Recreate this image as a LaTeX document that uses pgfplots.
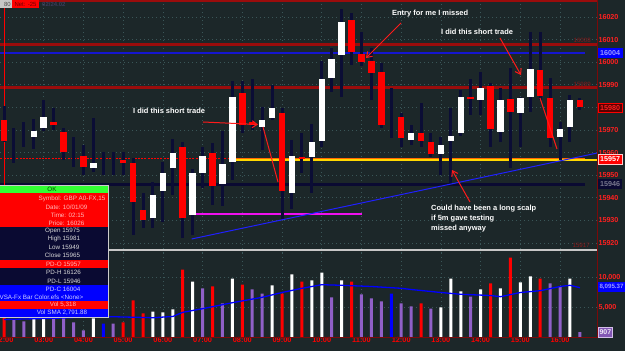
\documentclass[border=0pt]{standalone}
\usepackage{pgfplots}
\pgfplotsset{compat=1.18}
\usepackage{pgfplotstable}
\usepackage{fontspec}
\setmainfont{Liberation Sans}
\usetikzlibrary{arrows.meta}

\definecolor{bgc}{HTML}{1C2729}
\definecolor{wick}{HTML}{0B0D35}
\definecolor{cred}{HTML}{FF0000}
\definecolor{lred}{HTML}{9A0C0C}
\definecolor{gridc}{HTML}{3A5658}
\definecolor{vpurple}{HTML}{9060C8}
\definecolor{vblue}{HTML}{0000FF}
\definecolor{navy}{HTML}{0A0A32}
\definecolor{axred}{HTML}{7A0A0A}
\definecolor{lbl}{HTML}{FF2020}
\definecolor{pinkt}{HTML}{FFB8B8}
\definecolor{dimred}{HTML}{8A1A1A}
\definecolor{arrred}{HTML}{FF1A1A}
\definecolor{okgreen}{HTML}{33FF33}
\definecolor{magent}{HTML}{F010F0}
\definecolor{pdo}{HTML}{FF6A00}
\definecolor{pdoy}{HTML}{FFD800}
\definecolor{trend}{HTML}{2020FF}
\definecolor{pdc}{HTML}{1515D0}

\newcommand{\fs}[1]{\fontsize{#1}{#1}\selectfont}

% candles: i open high low close
\pgfplotstableread{
i o h l c
3 15966.9 15974.9 15961.6 15969.6
4 15970.9 15983.3 15969.6 15975.8
9 15953.2 15975.3 15951.4 15955.4
15 15931.1 15947.0 15926.6 15941.2
16 15943.0 15955.8 15929.3 15951.0
17 15953.2 15966.0 15941.2 15959.8
19 15932.4 15952.7 15923.5 15951.0
20 15951.0 15962.5 15944.3 15958.5
22 15946.1 15969.6 15936.8 15955.0
23 15955.8 15991.7 15947.9 15984.6
26 15971.3 15980.2 15961.2 15974.4
27 15975.3 15989.9 15974.4 15979.7
29 15942.1 15965.6 15935.0 15958.5
31 15958.1 15972.7 15942.1 15964.7
32 15965.1 16000.5 15962.5 15992.6
33 15993.0 16006.3 15986.8 16001.4
34 16003.2 16023.5 15984.6 16017.8
41 15965.6 15972.2 15963.4 15968.7
44 15959.4 15966.9 15950.1 15963.4
45 15965.1 15979.7 15945.7 15967.3
46 15968.7 15987.7 15967.3 15984.6
48 15983.3 15995.7 15976.6 15988.6
50 15969.1 15988.6 15964.7 15983.3
52 15977.5 15984.6 15962.5 15984.2
53 15985.0 16013.4 15978.0 15997.4
56 15966.9 15973.5 15956.7 15970.4
57 15971.3 15985.5 15964.7 15983.3
}\upc
\pgfplotstableread{
i o h l c
0 15974.4 15980.6 15964.7 15965.1
5 15973.5 15979.7 15970.0 15972.2
6 15969.1 15970.9 15956.7 15960.3
8 15958.5 15963.4 15950.1 15953.6
12 15956.7 15960.3 15950.1 15955.4
13 15955.4 15957.6 15923.5 15938.1
14 15934.6 15942.1 15926.6 15930.2
18 15962.5 15964.7 15922.2 15931.1
21 15959.8 15964.3 15936.8 15945.2
24 15986.4 15991.7 15968.7 15972.2
25 15973.5 15992.6 15970.0 15972.2
28 15977.5 15979.7 15930.2 15943.0
30 15958.1 15968.7 15951.0 15957.2
35 16018.7 16021.8 15998.8 16004.5
36 16003.6 16013.4 15998.3 16000.1
37 16000.5 16006.3 15983.3 15995.2
38 15995.7 15999.6 15970.9 15972.2
40 15975.8 15977.5 15962.5 15966.5
42 15968.7 15981.9 15962.5 15965.1
43 15964.7 15968.7 15958.1 15959.4
47 15984.6 15992.6 15976.6 15983.7
49 15989.5 15990.8 15962.5 15970.4
51 15983.7 15997.4 15953.2 15978.0
54 15996.5 16013.4 15983.3 15985.0
55 15984.2 15993.0 15962.5 15966.5
58 15983.3 15984.2 15978.9 15980.2
}\dnc
\pgfplotstableread{
i o h l c
1 15964.3 15970.9 15955.4 15964.3
2 15967.3 15973.5 15962.5 15967.3
7 15961.0 15966.9 15953.6 15961.0
10 15955.5 15960.3 15950.1 15955.5
11 15955.5 15960.3 15950.1 15955.5
39 15976.0 15988.6 15966.5 15976.0
}\doji

% volume by colour
\pgfplotstableread{
i v
1 3000
2 2700
5 3300
6 3300
7 2500
8 1200
11 2300
20 8200
22 5700
25 8000
26 7300
33 6700
36 7200
37 6500
38 6000
40 5700
41 5200
43 4800
47 6800
55 9000
56 8500
58 907
}\volp
\pgfplotstableread{
i v
3 3300
4 3300
9 3200
15 4300
16 4200
17 4700
19 9300
23 9800
27 8700
29 10500
31 9500
32 10800
34 9500
44 5000
45 9800
46 7700
48 8000
50 8200
52 9200
53 10200
57 9800
}\volw
\pgfplotstableread{
i v
0 3500
12 2500
13 6200
14 4000
18 11300
21 8500
24 8800
28 7300
30 9300
35 9300
42 5700
49 9000
51 13300
54 9800
}\volr
\pgfplotstableread{
i v
10 2300
39 7300
}\volb
\pgfplotstableread{
i v
0 3000
5 3200
10 3500
15 3300
17 3500
18 4200
20 4800
23 5800
26 6700
28 7500
30 8200
32 8800
34 8700
37 8500
40 8200
41 8000
44 7500
46 7200
49 7000
50 6800
52 7500
54 7800
56 8500
57 8700
58 8300
}\volsma

\pgfplotsset{
  basic/.style={
    scale only axis, xmin=-0.403, xmax=59.72,
    axis line style={draw=none}, tick style={draw=none},
    xtick={0,4,...,56},
    xmajorgrids, ymajorgrids,
    major grid style={draw=gridc, line width=0.7bp, dash pattern=on 0.7bp off 3.3bp},
    yticklabel pos=right,
    scaled y ticks=false, scaled x ticks=false,
    tick label style={font=\fs{7.2}\bfseries, text=lbl},
    /pgf/number format/assume math mode=true,
    /pgf/number format/1000 sep={},
    /pgf/number format/fixed,
  },
  wickst/.style={only marks, mark=*, mark size=0pt, mark options={draw=none, fill=none}, forget plot,
    error bars/.cd, y dir=both, y explicit, error mark=none,
    error bar style={draw=wick, line width=3bp}},
  bodyst/.style={only marks, mark=*, mark size=0pt, mark options={draw=none, fill=none}, forget plot,
    error bars/.cd, y dir=both, y explicit, error mark=none,
    error bar style={draw=#1, line width=6.5bp}},
  vbar/.style={ybar, bar width=3bp, bar shift=0pt, fill=#1, draw=none, forget plot},
}
\tikzset{
  redarr/.style={draw=arrred, line width=1bp, -{Straight Barb[length=5bp,width=7bp]}},
  redln/.style={draw=arrred, line width=1bp},
}

\begin{document}
\begin{tikzpicture}
\useasboundingbox (0,0) rectangle (625bp,351bp);
\fill[bgc] (0,0) rectangle (625bp,351bp);

% ---------------- price panel ----------------
\begin{axis}[basic, at={(0bp,98bp)}, anchor=south west, width=597bp, height=253bp,
  ymin=15915.6, ymax=16027.5,
  ytick={15920,15930,15940,15950,15960,15970,15980,15990,16000,16010,16020},
  yticklabels={15920,15930,15940,15950,15960,15970,{},15990,16000,16010,16020},
  xticklabels={}, yticklabel style={xshift=-2bp}]
  % horizontal levels
  \addplot[lred, line width=3bp, forget plot] coordinates {(-1,16027.2) (61,16027.2)};
  \addplot[lred, line width=3bp, forget plot] coordinates {(-1,16008) (61,16008)};
  \addplot[lred, line width=3bp, forget plot] coordinates {(-1,15988.6) (61,15988.6)};
  \addplot[pdc, line width=1.3bp, forget plot] coordinates {(-1,16004) (58.5,16004)};
  \addplot[cred, line width=1bp, dash pattern=on 2bp off 1.2bp, forget plot] coordinates {(-1,15957.2) (23.06,15957.2)};
  \addplot[pdoy, line width=1.2bp, forget plot] coordinates {(23.06,15956.7) (61,15956.7)};
  \addplot[pdo, line width=1.3bp, forget plot] coordinates {(23.06,15957.4) (58.5,15957.4)};
  \addplot[navy, line width=3bp, forget plot] coordinates {(-1,15946) (58.5,15946)};
  \addplot[magent, line width=2bp, forget plot] coordinates {(19.2,15932.8) (36.05,15932.8)};
  \addplot[white!78!black, line width=2bp, forget plot] coordinates {(-1,15917) (61,15917)};
  \addplot[cred, line width=0.9bp, forget plot] coordinates {(0,15910) (0,16030)};
  % wicks
  \addplot[wickst] table[x=i, y expr={(\thisrow{h}+\thisrow{l})/2}, y error expr={(\thisrow{h}-\thisrow{l})/2}] {\doji};
  \addplot[wickst] table[x=i, y expr={(\thisrow{h}+\thisrow{l})/2}, y error expr={(\thisrow{h}-\thisrow{l})/2}] {\upc};
  \addplot[wickst] table[x=i, y expr={(\thisrow{h}+\thisrow{l})/2}, y error expr={(\thisrow{h}-\thisrow{l})/2}] {\dnc};
  % trend line
  \addplot[trend, line width=1bp, forget plot] coordinates {(18.9,15921.8) (59.72,15959.8)};
  % bodies
  \addplot[bodyst=white] table[x=i, y expr={(\thisrow{o}+\thisrow{c})/2}, y error expr={max(abs(\thisrow{c}-\thisrow{o})/2,0.45)}] {\upc};
  \addplot[bodyst=cred] table[x=i, y expr={(\thisrow{o}+\thisrow{c})/2}, y error expr={max(abs(\thisrow{c}-\thisrow{o})/2,0.45)}] {\dnc};
\end{axis}

% ---------------- volume panel ----------------
\begin{axis}[basic, at={(0bp,13.5bp)}, anchor=south west, width=597bp, height=84.5bp,
  ymin=0, ymax=14083, ytick={5000,10000}, yticklabels={{5,000},{10,000}},
  yticklabel style={xshift=-2bp},
  xticklabels={02:00,03:00,04:00,05:00,06:00,07:00,08:00,09:00,10:00,11:00,12:00,13:00,14:00,15:00,16:00},
  xticklabel style={yshift=3.2bp, font=\fs{7.4}\bfseries, text=cred}]
  \addplot[vbar=vpurple] table[x=i,y=v] {\volp};
  \addplot[vbar=white] table[x=i,y=v] {\volw};
  \addplot[vbar=cred] table[x=i,y=v] {\volr};
  \addplot[vbar=vblue] table[x=i,y=v] {\volb};
  \addplot[vblue, line width=1.3bp, mark=none, forget plot] table[x=i,y=v] {\volsma};
\end{axis}

% ---------------- decorations in pixel coordinates ----------------
\begin{scope}[x=1bp, y=-1bp, yshift=351bp]
  % right axis and bottom axis
  \draw[axred, line width=1bp] (597,0) -- (597,338);
  \draw[axred, line width=1bp] (0,338) -- (597,338);

  % annotations
  \node[anchor=west, inner sep=0pt, text=white, font=\fs{7.5}\bfseries] at (133,111) {I did this short trade};
  \node[anchor=west, inner sep=0pt, text=white, font=\fs{7.5}\bfseries] at (392,14) {Entry for me I missed};
  \node[anchor=west, inner sep=0pt, text=white, font=\fs{7.5}\bfseries] at (441,32) {I did this short trade};
  \node[anchor=west, inner sep=0pt, text=white, font=\fs{7.5}\bfseries] at (431,209) {Could have been a long scalp};
  \node[anchor=west, inner sep=0pt, text=white, font=\fs{7.5}\bfseries] at (431,219) {if 5m gave testing};
  \node[anchor=west, inner sep=0pt, text=white, font=\fs{7.5}\bfseries] at (431,228.5) {missed anyway};
  \draw[redarr] (203,122) -- (258,124.5);
  \draw[redln] (263,127) -- (278,182);
  \draw[redarr] (401,23) -- (366,58);
  \draw[redarr] (500,38) -- (521,75);
  \draw[redln] (540,98) -- (557,149);
  \draw[redarr] (470,202) -- (452,170);

  % level labels on lines
  \node[anchor=east, inner sep=0pt, text=dimred, font=\fs{6.2}] at (591,40) {16008};
  \node[anchor=east, inner sep=0pt, text=dimred, font=\fs{6.2}] at (591,84) {15989};
  \node[anchor=east, inner sep=0pt, text=dimred, font=\fs{6.2}] at (590,245.5) {15917};

  % right-side value boxes
  \fill[vblue] (598,48.5) rectangle (623,58);
  \node[anchor=west, inner sep=0pt, text=white!60!blue, font=\fs{7.2}\bfseries] at (600,53.2) {16004};
  \filldraw[fill=black!65!red, draw=cred, line width=0.6bp] (598,103) rectangle (622,112.5);
  \node[anchor=west, inner sep=0pt, text=lbl, font=\fs{7.2}\bfseries] at (600,107.8) {15980};
  \filldraw[fill=cred, draw=white!80!red, line width=0.5bp] (598,154.5) rectangle (622,164);
  \node[anchor=west, inner sep=0pt, text=white, font=\fs{7.2}\bfseries] at (600,159.3) {15957};
  \fill[navy] (598,179.5) rectangle (622,189);
  \node[anchor=west, inner sep=0pt, text=navy!55!white, font=\fs{7.2}\bfseries] at (600,184.3) {15946};
  \fill[vblue] (598,282) rectangle (625,292);
  \node[anchor=west, inner sep=0pt, text=white!60!blue, font=\fs{6.2}\bfseries] at (599.3,287) {8,095.37};
  \filldraw[fill=vpurple!90!black, draw=white!60!vpurple, line width=0.5bp] (598,327) rectangle (612,337);
  \node[anchor=west, inner sep=0pt, text=white!85!vpurple, font=\fs{7}\bfseries] at (599.3,332) {907};

  % header top-left
  \fill[white!78!black] (0,0) rectangle (12,8);
  \node[anchor=east, inner sep=0pt, text=black!70, font=\fs{6}] at (11,4.2) {80};
  \fill[cred] (12,0) rectangle (39,8);
  \node[anchor=center, inner sep=0pt, text=black!55!red, font=\fs{6}] at (25.5,4.2) {Net: -25};
  \node[anchor=west, inner sep=0pt, text=navy!80!white, font=\fs{6}\bfseries] at (42,4.2) {02/24.02};

  % info panel
  \fill[okgreen] (-1,186) rectangle (108,193);
  \fill[cred] (-1,193) rectangle (108,227);
  \fill[navy] (-1,227) rectangle (108,260);
  \fill[cred] (-1,260) rectangle (108,268);
  \fill[navy] (-1,268) rectangle (108,285);
  \fill[vblue] (-1,285) rectangle (108,301);
  \fill[cred] (-1,301) rectangle (108,309);
  \fill[vblue] (-1,309) rectangle (108,317);
  \draw[white!80!black, line width=0.8bp] (-1,185.5) -- (108.4,185.5) -- (108.4,317.4) -- (-1,317.4);
  \begin{scope}[every node/.style={inner sep=0pt, font=\fs{6.3}}]
    \node[text=black!70!green] at (52,189.8) {OK};
    \node[text=pinkt] at (72,199) {Symbol: GBP A0-FX,15};
    \node[text=pinkt] at (66.5,207) {Date: 10/01/09};
    \node[text=pinkt] at (67.5,215) {Time: 02:15};
    \node[text=pinkt] at (66.5,223) {Price: 16026};
    \node[text=white!85!black] at (62.5,231) {Open 15975};
    \node[text=white!85!black] at (64,239) {High 15981};
    \node[text=white!85!black] at (64,247) {Low 15949};
    \node[text=white!85!black] at (62.5,255) {Close 15965};
    \node[text=pinkt] at (63.5,264) {PD-O 15957};
    \node[text=white!85!black] at (63.5,272.5) {PD-H 16126};
    \node[text=white!85!black] at (64,281) {PD-L 15946};
    \node[text=white!80!blue] at (63,289) {PD-C 16004};
    \node[text=white!80!blue, anchor=east] at (83.5,297) {VSA-Fx Bar Color.efs <None>};
    \node[text=pinkt] at (63,305) {Vol 5,318};
    \node[text=white!80!blue] at (62,313) {Vol SMA 2,791.88};
  \end{scope}
\end{scope}
\end{tikzpicture}
\end{document}
